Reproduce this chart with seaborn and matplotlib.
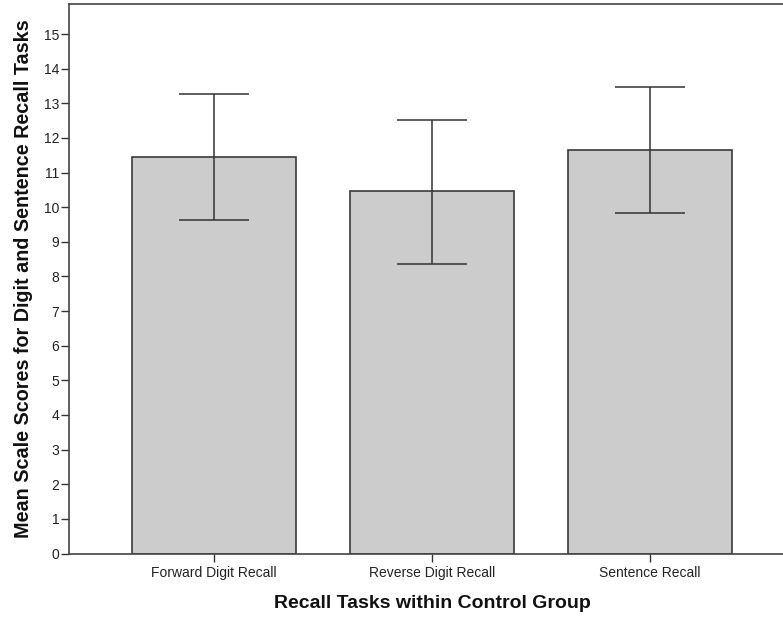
import matplotlib
matplotlib.use("Agg")
import matplotlib.pyplot as plt
import seaborn as sns
import pandas as pd

tasks = ["Forward Digit Recall", "Reverse Digit Recall", "Sentence Recall"]
means = [11.44, 10.46, 11.64]
ci_low = [9.62, 8.35, 9.82]
ci_high = [13.27, 12.52, 13.47]
y_ticks = list(range(0, 16))

sns.set_theme(style="white")
plt.rcParams["font.family"] = ["Liberation Sans", "DejaVu Sans"]

df = pd.DataFrame({"task": tasks, "mean": means})

fig = plt.figure(figsize=(7.83, 6.19), dpi=100)
ax = fig.add_axes([69 / 783, 1 - 553.5 / 619, (795 - 69) / 783, (553.5 - 4) / 619])

sns.barplot(data=df, x="task", y="mean", order=tasks, color="#cccccc",
            width=0.752, edgecolor="#3a3a3a", linewidth=1.2, errorbar=None,
            saturation=1, ax=ax)

# confidence interval whiskers
for i, (m, lo, hi) in enumerate(zip(means, ci_low, ci_high)):
    ax.errorbar(i, m, yerr=[[m - lo], [hi - m]], fmt="none", ecolor="#333333",
                elinewidth=1.1, capsize=25, capthick=1.1, zorder=5)

ax.set_xlim(-0.665, 2.665)
ax.set_ylim(0, 15.87)
ax.set_yticks(y_ticks)
ax.set_yticklabels([str(t) for t in y_ticks])

for side in ["left", "bottom", "top", "right"]:
    ax.spines[side].set_visible(True)
    ax.spines[side].set_color("#444444")
    ax.spines[side].set_linewidth(1.2)

ax.tick_params(axis="both", which="major", direction="out", length=6, width=1,
               color="#333333", labelsize=10, labelcolor="#222222",
               left=True, bottom=True)
ax.tick_params(axis="y", pad=1)
ax.tick_params(axis="x", pad=3)

ax.set_xlabel("Recall Tasks within Control Group", fontsize=14, fontweight="bold",
              labelpad=11, color="#111111")
ax.set_ylabel("Mean Scale Scores for Digit and Sentence Recall Tasks", fontsize=14.2,
              fontweight="bold", labelpad=8, color="#111111")

fig.savefig("out.png", dpi=100)
